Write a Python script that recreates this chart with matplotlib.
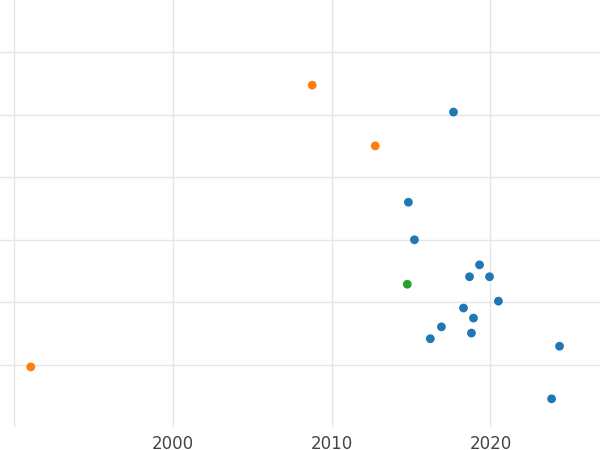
import matplotlib
matplotlib.use("Agg")
import matplotlib.pyplot as plt

orange_x = [2008.77, 2012.74, 1991.04]
orange_y = [5.47, 4.50, 0.97]
blue_x = [2017.67, 2014.83, 2015.21, 2019.31, 2018.68, 2019.94, 2020.50, 2018.30,
          2018.93, 2016.91, 2018.80, 2016.21, 2024.35, 2023.85]
blue_y = [5.04, 3.60, 3.00, 2.60, 2.41, 2.41, 2.02, 1.91, 1.75, 1.61, 1.51, 1.42, 1.30, 0.46]
green_x = [2014.76]
green_y = [2.29]
xticks = [1990, 2000, 2010, 2020]
xticklabels = ["", "2000", "2010", "2020"]

fig = plt.figure(figsize=(6, 4.5), dpi=100)
ax = fig.add_axes([0, 23/450, 1, 427/450])
ax.scatter(blue_x, blue_y, color="#1f77b4", s=40, zorder=3, edgecolors="none")
ax.scatter(orange_x, orange_y, color="#ff7f0e", s=40, zorder=3, edgecolors="none")
ax.scatter(green_x, green_y, color="#2ca02c", s=40, zorder=3, edgecolors="none")
ax.set_xlim(1989.1, 2026.9)
ax.set_ylim(0.01, 6.83)
ax.set_xticks(xticks)
ax.set_xticklabels(xticklabels, color="#444444", fontsize=12)
ax.set_yticks([1, 2, 3, 4, 5, 6])
ax.set_yticklabels([])
ax.tick_params(length=0, pad=6)
ax.grid(True, color="#e6e6e6", linewidth=1)
ax.set_axisbelow(True)
for s in ax.spines.values():
    s.set_visible(False)
fig.savefig("out.png", dpi=100)
